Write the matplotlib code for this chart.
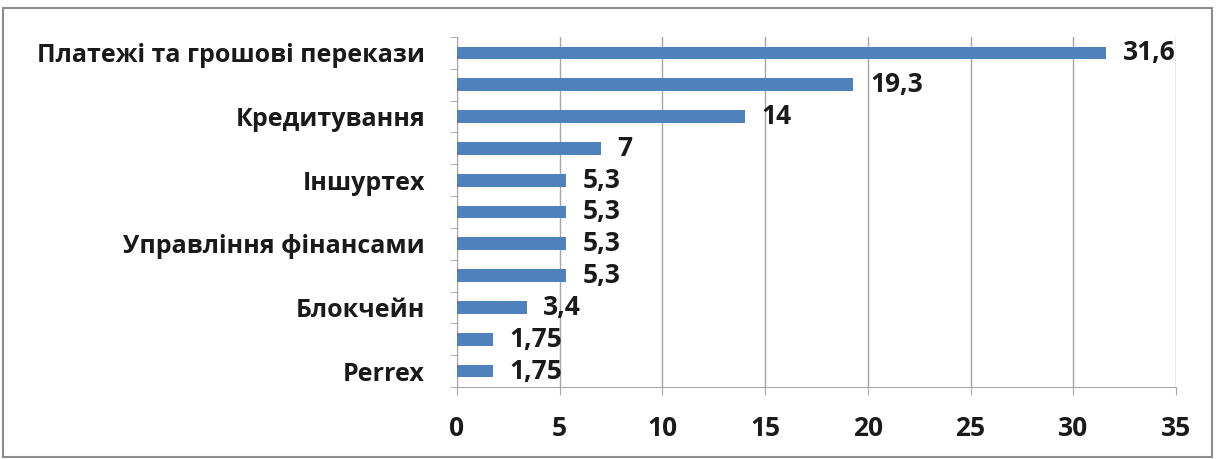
"""Horizontal bar chart: fintech segments share (%)."""

import matplotlib.pyplot as plt
from matplotlib.patches import Rectangle

categories = [
    'Платежі та грошові перекази', '', 'Кредитування', '', 'Іншуртех', '',
    'Управління фінансами', '', 'Блокчейн', '', 'Perrex',
]
values = [31.6, 19.3, 14, 7, 5.3, 5.3, 5.3, 5.3, 3.4, 1.75, 1.75]
value_labels = ['31,6', '19,3', '14', '7', '5,3', '5,3', '5,3', '5,3', '3,4', '1,75', '1,75']
x_ticks = [0, 5, 10, 15, 20, 25, 30, 35]

BAR_COLOR = '#4F81BD'
GRID_COLOR = '#A6A6A6'
TEXT_COLOR = '#1a1a1a'
FONT = ['Open Sans', 'DejaVu Sans']

plt.rcParams['font.family'] = FONT

fig = plt.figure(figsize=(12.16, 4.59), dpi=100)
ax = fig.add_axes([457 / 1216, 1 - 387 / 459, (1176 - 457) / 1216, (387 - 37) / 459])

pos = list(range(len(values)))
ax.barh(pos, values, height=0.4, color=BAR_COLOR, zorder=3)
ax.set_ylim(len(values) - 0.5, -0.5)
ax.set_xlim(0, 35)

for p, v, lab in zip(pos, values, value_labels):
    ax.text(v + 0.8, p, lab, va='center', ha='left', fontsize=19,
            fontweight='bold', color=TEXT_COLOR, zorder=4)

ax.set_yticks([p for p, c in zip(pos, categories) if c])
ax.set_yticklabels([c for c in categories if c], fontsize=18, fontweight='bold',
                   color=TEXT_COLOR)
ax.set_yticks([p - 0.5 for p in pos] + [len(pos) - 0.5], minor=True)
ax.tick_params(axis='y', which='major', length=0, pad=23)
ax.tick_params(axis='y', which='minor', length=5, color=GRID_COLOR)

ax.set_xticks(x_ticks)
ax.set_xticklabels([str(t) for t in x_ticks], fontsize=19, fontweight='bold',
                   color=TEXT_COLOR)
ax.tick_params(axis='x', length=6, color=GRID_COLOR, pad=14)

ax.grid(axis='x', color=GRID_COLOR, lw=1, zorder=0)
for side in ['top', 'right']:
    ax.spines[side].set_visible(False)
for side in ['left', 'bottom']:
    ax.spines[side].set_color(GRID_COLOR)

# outer chart frame
fig.patches.append(Rectangle((3 / 1216, 2 / 459), 1209 / 1216, 449 / 459,
                             transform=fig.transFigure, fill=False,
                             edgecolor='#8c8c8c', lw=1.5))

fig.savefig('out.png', dpi=100)
